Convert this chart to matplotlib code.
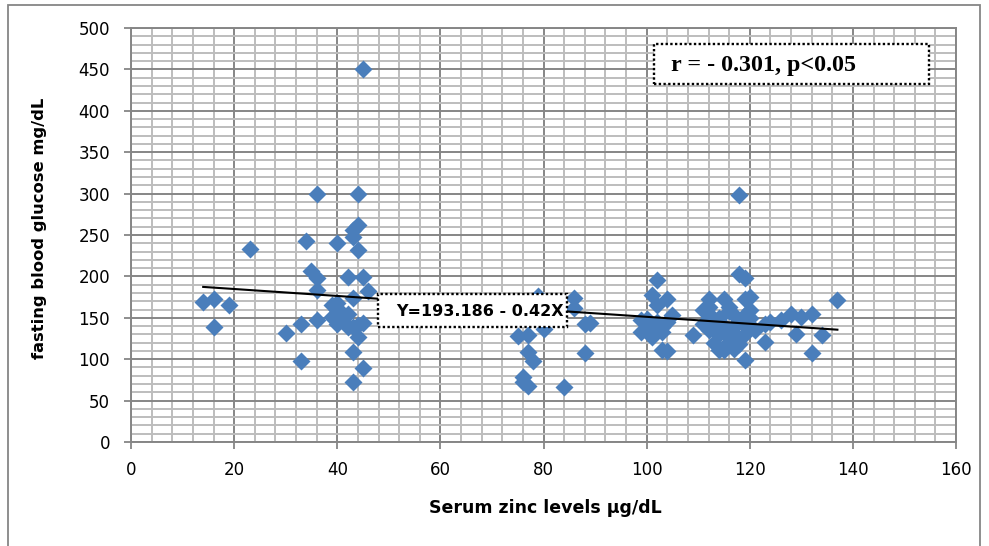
import numpy as np
import matplotlib
matplotlib.use("Agg")
import matplotlib.pyplot as plt
from matplotlib.patches import Rectangle

# serum zinc (ug/dL) vs fasting blood glucose (mg/dL)
zinc = [14, 16, 16, 19, 23,
        30, 33, 33, 34, 35, 36, 36, 36, 36,
        39, 40, 40, 40, 40, 41, 42, 42, 42,
        43, 43, 43, 43, 43, 43, 44, 44, 44, 44, 44,
        45, 45, 45, 45, 46, 39, 41,
        75, 77, 79, 80, 77, 78, 76, 77, 76, 84, 86, 86, 88, 89, 88,
        99, 99, 100, 101, 101, 101, 101, 102, 102, 103, 103, 103, 104, 104,
        105, 109, 100, 102, 104,
        111, 111, 112, 112, 112, 112, 112, 113, 114, 115, 115, 116, 116, 116,
        116, 117, 117, 117, 118, 118, 118, 118, 119, 119, 119, 119, 119, 119,
        120, 114, 115, 117, 118, 120, 121, 114, 120, 113,
        123, 123, 124, 126, 128, 129, 130, 132, 132, 134, 137]
glucose = [169, 173, 139, 165, 233,
           132, 98, 143, 243, 206, 299, 198, 183, 147,
           151, 240, 168, 159, 143, 147, 199, 139, 155,
           256, 248, 174, 139, 109, 73, 262, 299, 232, 127, 141,
           450, 199, 144, 89, 182, 165, 156,
           128, 129, 176, 137, 109, 98, 79, 68, 73, 67, 174, 162, 143, 144, 107,
           147, 133, 149, 178, 137, 127, 140, 196, 165, 139, 133, 111, 110, 173,
           153, 129, 143, 145, 145,
           142, 159, 173, 163, 155, 147, 135, 135, 111, 111, 173, 163, 158, 127,
           121, 131, 140, 153, 298, 203, 118, 145, 198, 173, 153, 141, 99, 130,
           160, 150, 140, 112, 125, 150, 135, 130, 175, 120,
           143, 121, 145, 147, 155, 131, 151, 155, 107, 129, 172]

intercept = 193.186
slope = -0.42
r_text = "r = - 0.301, p<0.05"
eq_text = "Y=193.186 - 0.42X"

xlabel = "Serum zinc levels \u00b5g/dL"
ylabel = "fasting blood glucose mg/dL"

W, H = 989, 546
fig = plt.figure(figsize=(W / 100, H / 100), dpi=100)
ax = fig.add_axes([131 / W, 1 - 442 / H, (956 - 131) / W, (442 - 28) / H])

ax.set_xlim(0, 160)
ax.set_ylim(0, 500)
ax.set_xticks(np.arange(0, 161, 20))
ax.set_xticks(np.arange(0, 161, 4), minor=True)
ax.set_yticks(np.arange(0, 501, 50))
ax.set_yticks(np.arange(0, 501, 10), minor=True)

ax.grid(which="minor", color="#bdbdbd", lw=1.4, zorder=0)
ax.grid(which="major", color="#868686", lw=1.4, zorder=0)
ax.set_axisbelow(True)
for s in ax.spines.values():
    s.set_color("#868686")
    s.set_linewidth(1.4)

ax.tick_params(which="major", direction="out", length=5, color="#868686",
               labelsize=12, width=1.3)
ax.tick_params(axis="y", pad=10)
ax.tick_params(axis="x", pad=9)
ax.tick_params(which="minor", length=0)

ax.plot(zinc, glucose, "D", color="#4a7ebb", ms=9.4, mec="none", zorder=3)

xs = np.array([min(zinc), max(zinc)])
ax.plot(xs, intercept + slope * xs, color="black", lw=1.5, zorder=4)


def text_box(x0, y0, x1, y1, tx, ty, text, **kw):
    # box and text placed in figure pixels (top-left origin)
    fig.add_artist(Rectangle((x0 / W, 1 - y1 / H), (x1 - x0) / W,
                             (y1 - y0) / H, transform=fig.transFigure,
                             fc="white", ec="black", lw=1.7,
                             ls=(0, (1, 1)), zorder=5))
    fig.text(tx / W, 1 - ty / H, text, ha="left", va="center",
             fontweight="bold", zorder=6, **kw)


text_box(378, 294, 567, 327, 396, 311, eq_text, fontsize=11.5)
text_box(654, 44, 929, 84, 671, 65, r_text, fontsize=17.3,
         family="Liberation Serif")

fig.text(545 / W, 1 - 508 / H, xlabel, ha="center", va="center",
         fontsize=12.5, fontweight="bold")
fig.text(40 / W, 1 - 228 / H, ylabel, ha="center", va="center",
         rotation=90, fontsize=11.8, fontweight="bold")

fig.add_artist(Rectangle((8 / W, -0.05), (980 - 8) / W, 1.05 - 5 / H,
                         transform=fig.transFigure, fill=False,
                         ec="#868686", lw=1.3))

fig.savefig("out.png", dpi=100)
